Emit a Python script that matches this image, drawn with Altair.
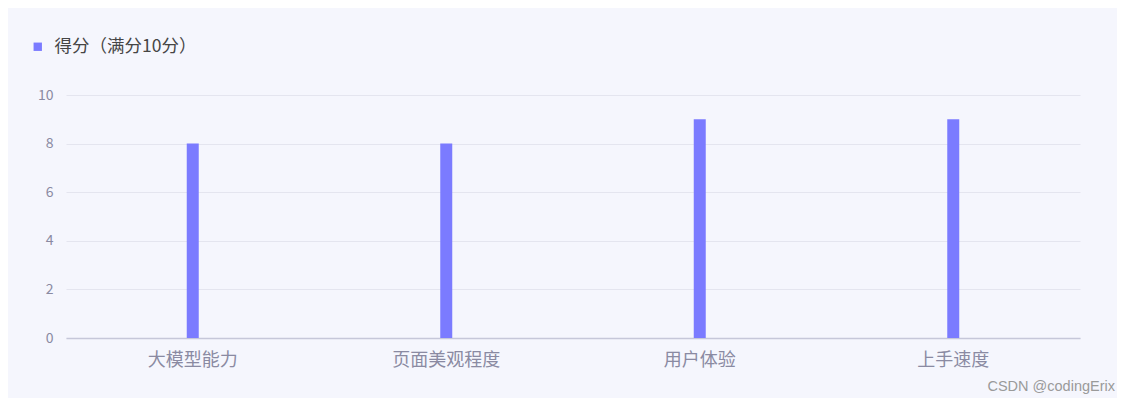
import altair as alt
import pandas as pd

categories = ["大模型能力", "页面美观程度", "用户体验", "上手速度"]
scores = [8, 8, 9, 9]
series_name = "得分（满分10分）"
watermark = "CSDN @codingErix"

df = pd.DataFrame({"类别": categories, "得分": scores, "系列": [series_name] * len(categories)})

FONT = "Noto Sans CJK SC"
BAR = "#7b7bff"
LABEL = "#8a8aa2"

bars = alt.Chart(df).mark_bar(size=12, color=BAR).encode(
    x=alt.X("类别:N", sort=categories, title=None,
            axis=alt.Axis(labelAngle=0, labelFontSize=18, labelColor=LABEL, labelFont=FONT,
                          labelPadding=13, ticks=False, domainColor="#c6c7d9", domainWidth=1.5,
                          grid=False)),
    y=alt.Y("得分:Q", title=None, scale=alt.Scale(domain=[0, 10]),
            axis=alt.Axis(values=[0, 2, 4, 6, 8, 10], labelFontSize=14, labelColor=LABEL,
                          labelFont=FONT, labelPadding=13, ticks=False, domain=False,
                          gridColor="#e4e5ef", gridWidth=1)),
    color=alt.Color("系列:N", scale=alt.Scale(range=[BAR]),
                    legend=alt.Legend(title=None, orient="none", legendX=-37, legendY=-57,
                                      symbolType="square", symbolSize=70, symbolStrokeWidth=0,
                                      labelFontSize=17.5, labelColor="#454545", labelFont=FONT,
                                      labelOffset=8, padding=0)),
)

wm = alt.Chart(pd.DataFrame({"t": [watermark]})).mark_text(
    align="right", baseline="middle", fontSize=14.5, color="#9a9a9a", font="Liberation Sans"
).encode(text="t:N", x=alt.value(1049), y=alt.value(292))

chart = alt.layer(bars, wm).properties(
    width=1014, height=243,
    background="#f5f6fd",
    padding={"left": 58, "top": 87, "right": 37, "bottom": 60},
    autosize=alt.AutoSizeParams(type="none"),
).configure_view(stroke=None)

chart.save("out.html", embed_options={"renderer": "svg", "actions": False})
